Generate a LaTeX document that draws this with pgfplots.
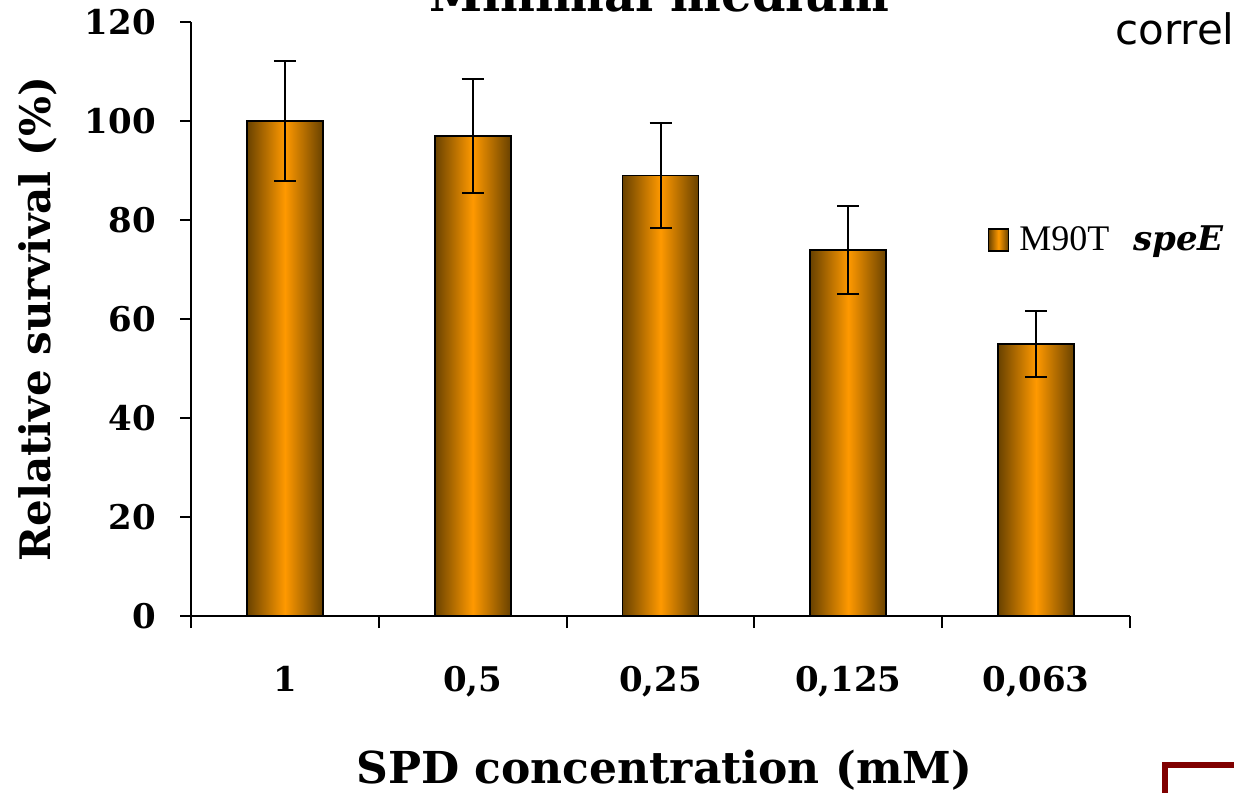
\documentclass[border=0pt]{standalone}
\usepackage{fontspec}
\setmainfont{DejaVu Serif}
\newfontfamily\timesf{Liberation Serif}
\newfontfamily\djs{DejaVu Serif}
\newfontfamily\sansf{DejaVu Sans}
\usepackage{pgfplots}
\pgfplotsset{compat=1.18}
\definecolor{edgebrown}{RGB}{105,66,0}
\definecolor{midorange}{RGB}{255,153,0}
\definecolor{cornerred}{RGB}{128,0,0}
\pgfplotsset{
  shadedbar/.style={ybar, bar width=38pt, bar shift=0pt, draw=black, line width=0.9pt,
    left color=edgebrown, right color=edgebrown, middle color=midorange,
    legend image code/.code={\draw[line width=0.8pt, left color=edgebrown, right color=edgebrown, middle color=midorange] (0pt,-5.5pt) rectangle (10pt,5.5pt);},
    error bars/.cd, y dir=both, y explicit,
    error bar style={line width=1pt, black},
    error mark options={rotate=90, mark size=5.5pt, line width=1pt, black},
    /pgfplots/.cd},
}
\begin{document}
\begin{tikzpicture}
\useasboundingbox (0,0) rectangle (617pt,396pt);
\clip (0,0) rectangle (617pt,396pt);
\begin{axis}[
  at={(95.5pt,88pt)}, anchor=south west,
  scale only axis, width=469.5pt, height=297pt,
  xmin=0.5, xmax=5.5, ymin=0, ymax=120,
  axis x line*=bottom, axis y line*=left,
  axis line style={line width=1pt, black},
  ytick={0,20,...,120},
  xtick={1,2,3,4,5},
  xticklabels={1,{0,5},{0,25},{0,125},{0,063}},
  minor xtick={0.5,1.5,2.5,3.5,4.5,5.5},
  major x tick style={draw=none},
  tick align=outside,
  major tick length=5.5pt, minor tick length=6pt,
  every tick/.append style={line width=1pt, black},
  /pgf/number format/assume math mode=true,
  ticklabel style={font=\bfseries\fontsize{17}{17}\selectfont},
  yticklabel style={xshift=-8.5pt},
  xticklabel style={yshift=-16pt},
  xlabel={SPD concentration (mM)},
  xlabel style={at={(axis description cs:0.504,-0.259)}, anchor=center, font=\bfseries\fontsize{22}{22}\selectfont},
  ylabel={Relative survival (\%)},
  ylabel style={at={(axis description cs:-0.163,0.50)}, anchor=center, font=\bfseries\fontsize{21}{21}\selectfont},
  legend style={at={(0.848,0.633)}, anchor=west, draw=none, fill=none, inner sep=0pt, font=\timesf\fontsize{18}{18}\selectfont},
  clip=false,
]
\addplot[shadedbar] coordinates {(1,100) +- (0,12.1)};
\addlegendentry{\hspace{3pt}M90T\hspace{12pt}{\djs\bfseries\itshape\fontsize{17}{17}\selectfont speE}}
\addplot[forget plot, shadedbar] coordinates {(2,97) +- (0,11.5)};
\addplot[forget plot, shadedbar] coordinates {(3,89) +- (0,10.6)};
\addplot[forget plot, shadedbar] coordinates {(4,74) +- (0,8.9)};
\addplot[forget plot, shadedbar] coordinates {(5,55) +- (0,6.7)};
\node[anchor=base, font=\bfseries\fontsize{24}{24}\selectfont, inner sep=0pt] at (axis description cs:0.499,1.017) {Minimal medium};
\end{axis}
\node[anchor=base west, font=\sansf\fontsize{21}{21}\selectfont, inner sep=0pt] at (557.5pt,373.5pt) {correl};
\draw[cornerred, line width=3pt] (582.5pt,-3pt) -- (582.5pt,13.5pt) -- (622pt,13.5pt);
\end{tikzpicture}
\end{document}
